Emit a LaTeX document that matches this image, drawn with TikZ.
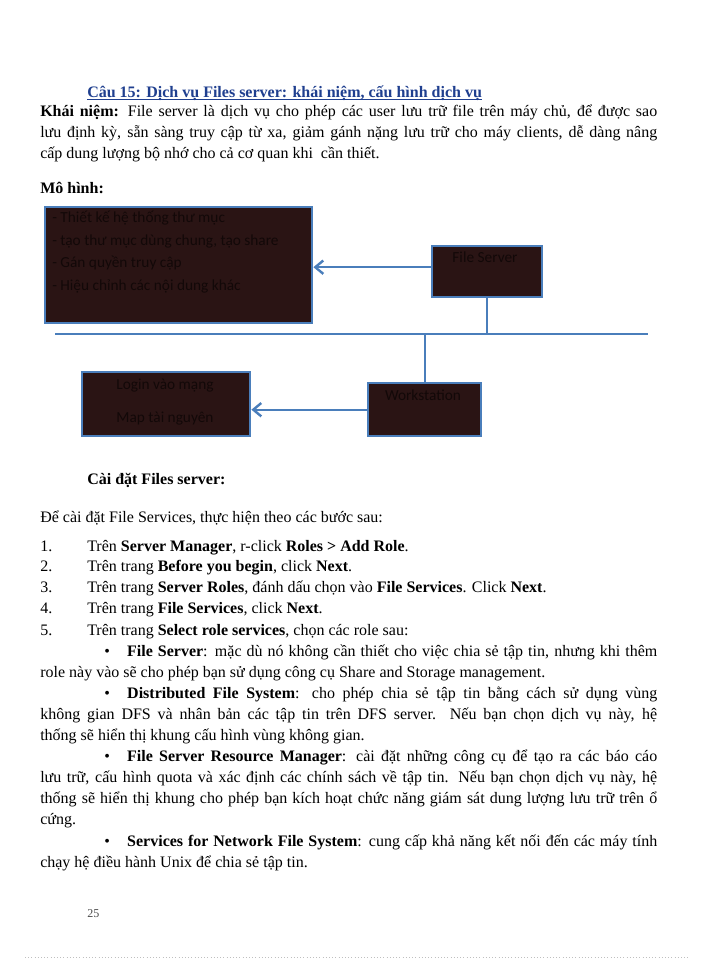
\documentclass[tikz,border=0pt]{standalone}
\usepackage{fontspec}
\setmainfont{Liberation Serif}
\newfontfamily\boxfont{Carlito}
\usetikzlibrary{arrows.meta}
\definecolor{boxfill}{HTML}{2A1414}
\definecolor{boxtext}{HTML}{120808}
\definecolor{lineblue}{HTML}{4A7EBB}
\definecolor{titleblue}{HTML}{1F3F8F}
\begin{document}
\begin{tikzpicture}[x=0.75pt,y=-0.75pt,
  body/.style={anchor=base west,inner sep=0pt,font=\fontsize{12}{15.75}\selectfont},
  para/.style={body,text width=617*0.75pt,align=justify},
  dbox/.style={draw=lineblue,line width=1.8pt,fill=boxfill,inner sep=0pt},
  btxt/.style={anchor=base west,inner sep=0pt,text=boxtext,font=\boxfont\fontsize{11.5}{14}\selectfont},
  conn/.style={draw=lineblue,line width=1.8pt},
  arr/.style={conn,-{Straight Barb[length=6pt,width=10pt]}}]
\path[use as bounding box,fill=white] (0,0) rectangle (700,960);
\node[body,font=\bfseries\fontsize{12}{15.75}\selectfont,text=titleblue] (title) at (87,97) {Câu 15: Dịch vụ Files server: khái niệm, cấu hình dịch vụ};
\draw[titleblue,line width=0.6pt] ([yshift=-1.5pt]title.base west) -- ([yshift=-1.5pt]title.base east);
\node[para] (kn) at (40,116) {\textbf{Khái niệm:} File server là dịch vụ cho phép các user lưu trữ file trên máy chủ, để được sao\linebreak lưu định kỳ, sẵn sàng truy cập từ xa, giảm gánh nặng lưu trữ cho máy clients, dễ dàng nâng\linebreak cấp dung lượng bộ nhớ cho cả cơ quan khi \ cần thiết.\par};
\node[body,font=\bfseries\fontsize{12}{15.75}\selectfont] (mh) at (40,193) {Mô hình:};
% diagram
\node[dbox,minimum width=267*0.75pt,minimum height=116*0.75pt,anchor=north west] (b1) at (44,206) {};
\node[btxt] at (52,222) {- Thiết kế hệ thống thư mục};
\node[btxt] at (52,245) {- tạo thư mục dùng chung, tạo share};
\node[btxt] at (52,267) {- Gán quyền truy cập};
\node[btxt] at (52,290) {- Hiệu chỉnh các nội dung khác};
\node[dbox,minimum width=110*0.75pt,minimum height=42*0.75pt,anchor=north west] (fs) at (431,245) {};
\node[dbox,minimum width=110*0.75pt,minimum height=51*0.75pt,anchor=north west] (fsb) at (431,245) {};
\node[btxt,anchor=base] at (485,262) {File Server};
\node[dbox,minimum width=113*0.75pt,minimum height=53*0.75pt,anchor=north west] (ws) at (367,382) {};
\node[btxt,anchor=base] at (423,400) {Workstation};
\node[dbox,minimum width=168*0.75pt,minimum height=64*0.75pt,anchor=north west] (lg) at (81,371) {};
\node[btxt,anchor=base] at (165,389) {Login vào mạng};
\node[btxt,anchor=base] at (165,422) {Map tài nguyên};
\coordinate (busL) at (55,334);
\coordinate (busR) at (648,334);
\draw[conn] (busL) -- (busR);
\draw[conn] (fsb.south) -- (fsb.south |- busL);
\draw[conn] (ws.north) -- (ws.north |- busL);
\draw[arr] (fs.west) -- (b1.east |- fs.west);
\draw[arr] (ws.west) -- (lg.east |- ws.west);
% install
\node[body,font=\bfseries\fontsize{12}{15.75}\selectfont] (cd) at (87,484) {Cài đặt Files server:};
\node[body] (intro) at (40,522) {Để cài đặt File Services, thực hiện theo các bước sau:};
\foreach \n/\y/\t in {1/551/{Trên \textbf{Server Manager}, r-click \textbf{Roles > Add Role}.},
  2/571/{Trên trang \textbf{Before you begin}, click \textbf{Next}.},
  3/592/{Trên trang \textbf{Server Roles}, đánh dấu chọn vào \textbf{File Services}. Click \textbf{Next}.},
  4/613/{Trên trang \textbf{File Services}, click \textbf{Next}.},
  5/635/{Trên trang \textbf{Select role services}, chọn các role sau:}}{
  \node[body] (n\n) at (40,\y) {\n.};
  \node[body] (t\n) at (87,\y) {\t};
}
\node[para] (p1) at (40,656) {\hspace*{48pt}\textbullet\hspace{13pt}\textbf{File Server}: mặc dù nó không cần thiết cho việc chia sẻ tập tin, nhưng khi thêm role này vào sẽ cho phép bạn sử dụng công cụ Share and Storage management.\par};
\node[para] (p2) at (40,698) {\hspace*{48pt}\textbullet\hspace{13pt}\textbf{Distributed File System}: cho phép chia sẻ tập tin bằng cách sử dụng vùng\linebreak không gian DFS và nhân bản các tập tin trên DFS server. Nếu bạn chọn dịch vụ này, hệ\linebreak thống sẽ hiển thị khung cấu hình vùng không gian.\par};
\node[para] (p3) at (40,761) {\hspace*{48pt}\textbullet\hspace{13pt}\textbf{File Server Resource Manager}: cài đặt những công cụ để tạo ra các báo cáo\linebreak lưu trữ, cấu hình quota và xác định các chính sách về tập tin. Nếu bạn chọn dịch vụ này, hệ\linebreak thống sẽ hiển thị khung cho phép bạn kích hoạt chức năng giám sát dung lượng lưu trữ trên ổ\linebreak cứng.\par};
\node[para] (p4) at (40,846) {\hspace*{48pt}\textbullet\hspace{13pt}\textbf{Services for Network File System}: cung cấp khả năng kết nối đến các máy tính\linebreak chạy hệ điều hành Unix để chia sẻ tập tin.\par};
\node[anchor=base west,inner sep=0pt,font=\fontsize{9}{11}\selectfont,text=black!70] (pg) at (87,917) {25};
\draw[gray!50,dotted] (25,957) -- (690,957);
\end{tikzpicture}
\end{document}
